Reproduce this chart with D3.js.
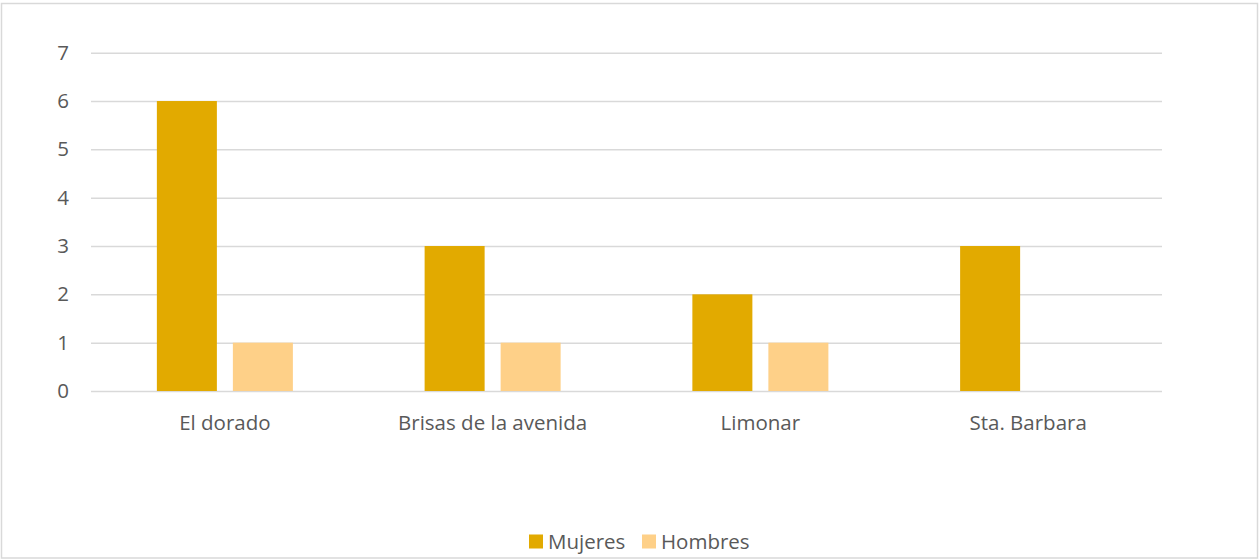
<!DOCTYPE html>
<html>
<head>
<meta charset="utf-8">
<script src="https://cdn.jsdelivr.net/npm/d3@7"></script>
<style>
  body { margin:0; background:#fff; }
  .canvas { width:1259px; height:559px; }
  text { font-family: "Open Sans", "Liberation Sans", sans-serif; fill:#595959; }
  .axis path { display:none; }
  .axis line { stroke:#d9d9d9; stroke-width:1.5; }
</style>
</head>
<body>
<div class="canvas" id="canvas"></div>
<script>
// data
var categories = ['El dorado','Brisas de la avenida','Limonar','Sta. Barbara'];
var series = ['Mujeres','Hombres'];
var mujeres = [6,3,2,3];
var hombres = [1,1,1,0];
var yTicks = [0,1,2,3,4,5,6,7];
var colors = ['#e2aa00','#fed088'];

var W = 1259, H = 559;
var m = {t:52.7, r:97, b:168, l:91};
var w = W - m.l - m.r,
    h = H - m.t - m.b;

var svg = d3.select('.canvas')
    .append('svg')
    .attr('width',W)
    .attr('height',H);

// outer border
svg.append('rect')
    .attr('x',1.5).attr('y',3.5)
    .attr('width',W-3).attr('height',H-4.5)
    .style('fill','none')
    .style('stroke','#d9d9d9')
    .style('stroke-width',1.5);

var plot = svg.append('g')
    .attr('transform','translate(' + m.l + ',' + m.t + ')');

var scaleY = d3.scaleLinear().domain([0,7]).range([h,0]);
var scaleX = d3.scaleBand().domain(categories).range([0,w]).paddingInner(0.492).paddingOuter(0.246);
var scaleX1 = d3.scaleBand().domain(series).range([0,scaleX.bandwidth()]).paddingInner(0.2105).paddingOuter(0);

var axisY = d3.axisLeft().scale(scaleY).tickValues(yTicks)
    .tickFormat(d3.format('d')).tickSize(-w).tickPadding(22);
var gy = plot.append('g').attr('class','axis axis-y').call(axisY);
gy.selectAll('text').style('font-size','20.5px');

var axisX = d3.axisBottom().scale(scaleX).tickSize(0).tickPadding(24);
var gx = plot.append('g').attr('class','axis axis-x')
    .attr('transform','translate(0,'+h+')')
    .call(axisX);
gx.selectAll('text').style('font-size','20.5px');

var rows = categories.map(function(c,i){
    return {cat:c, values:[mujeres[i],hombres[i]]};
});

var groups = plot.selectAll('.cat')
    .data(rows)
    .enter()
    .append('g')
    .attr('class','cat')
    .attr('transform',function(d){return 'translate('+scaleX(d.cat)+',0)';});

groups.selectAll('rect')
    .data(function(d){return d.values.map(function(v,j){return {s:series[j],v:v,j:j};});})
    .enter()
    .append('rect')
    .attr('x',function(d){return scaleX1(d.s);})
    .attr('y',function(d){return scaleY(d.v);})
    .attr('width',scaleX1.bandwidth())
    .attr('height',function(d){return h-scaleY(d.v);})
    .style('fill',function(d){return colors[d.j];});

// legend
var legend = svg.append('g').attr('transform','translate(529,534.5)');
var lx = [0,113];
series.forEach(function(s,i){
    var g = legend.append('g').attr('transform','translate('+lx[i]+',0)');
    g.append('rect').attr('width',14).attr('height',14).style('fill',colors[i]);
    g.append('text').attr('x',19).attr('y',14).style('font-size','20.5px').text(s);
});
</script>
</body>
</html>
